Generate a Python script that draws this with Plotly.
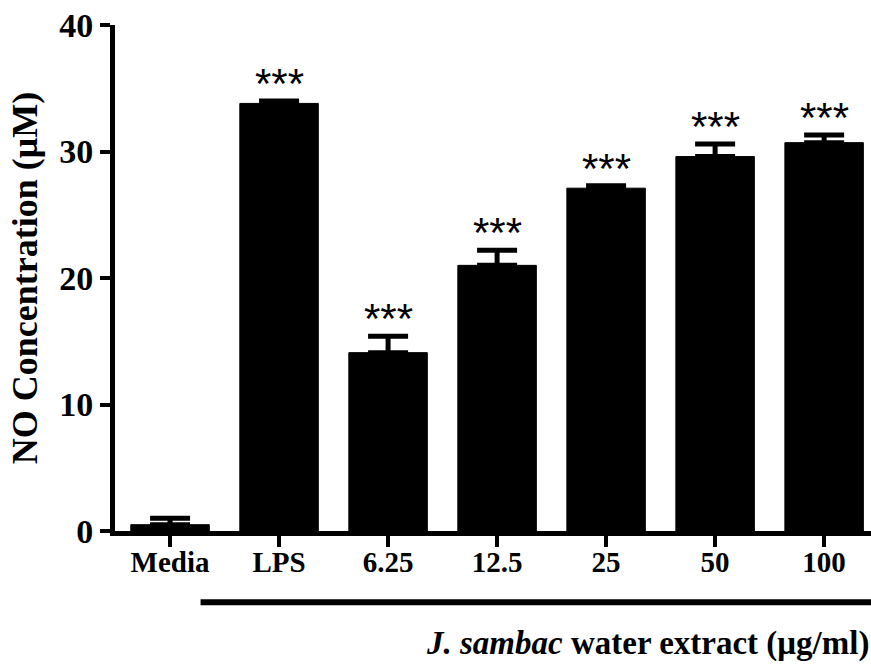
import plotly.graph_objects as go

# NO production by treatment group
categories = ["Media", "LPS", "6.25", "12.5", "25", "50", "100"]
no_mean = [0.5, 33.8, 14.1, 21.0, 27.1, 29.6, 30.7]
no_sem = [0.5, 0.2, 1.3, 1.2, 0.2, 1.0, 0.6]
significance = ["", "***", "***", "***", "***", "***", "***"]
y_ticks = [0, 10, 20, 30, 40]

serif = "Liberation Serif"
fig = go.Figure()

fig.add_trace(go.Bar(
    x=categories,
    y=no_mean,
    width=0.72,
    marker=dict(color="black", line=dict(color="black", width=1)),
    error_y=dict(
        type="data",
        symmetric=False,
        array=no_sem,
        arrayminus=[0] * len(no_sem),
        color="black",
        thickness=5,
        width=20,
    ),
))

# significance markers above each error bar (category index positions)
for i, (m, s, sig) in enumerate(zip(no_mean, no_sem, significance)):
    if sig:
        fig.add_annotation(
            x=i, y=m + s, text=sig, showarrow=False,
            xanchor="center", yanchor="bottom", yshift=-8,
            font=dict(family="Liberation Sans", size=42, color="black"),
        )

# bracket line under the extract concentrations
fig.add_shape(
    type="line", xref="x", yref="paper",
    x0=0.28, x1=6.5, y0=-0.141, y1=-0.141,
    line=dict(color="black", width=6),
)

fig.add_annotation(
    xref="paper", yref="paper", x=1.0, y=-0.222,
    xanchor="right", yanchor="middle", showarrow=False,
    text="<b><i>J. sambac</i> water extract (μg/ml)</b>",
    font=dict(family=serif, size=33, color="black"),
)

fig.update_layout(
    width=871, height=668,
    margin=dict(l=115, r=0, t=25, b=137),
    plot_bgcolor="white", paper_bgcolor="white",
    showlegend=False,
    bargap=0.28,
    font=dict(family=serif, color="black"),
)

fig.update_xaxes(
    type="category",
    range=[-0.505, 6.43],
    showline=True, linecolor="black", linewidth=5,
    ticks="outside", ticklen=11, tickwidth=4, tickcolor="black",
    ticklabelstandoff=-10,
    tickfont=dict(family=serif, size=29, color="black", weight="bold"),
    showgrid=False, zeroline=False,
)

fig.update_yaxes(
    range=[0, 40],
    tickvals=y_ticks,
    showline=True, linecolor="black", linewidth=5,
    ticks="outside", ticklen=10, tickwidth=4, tickcolor="black",
    tickfont=dict(family=serif, size=34, color="black", weight="bold"),
    title=dict(text="NO Concentration (μM)", standoff=12,
               font=dict(family=serif, size=36, color="black", weight="bold")),
    showgrid=False, zeroline=False,
)

fig.write_html("out.html")
